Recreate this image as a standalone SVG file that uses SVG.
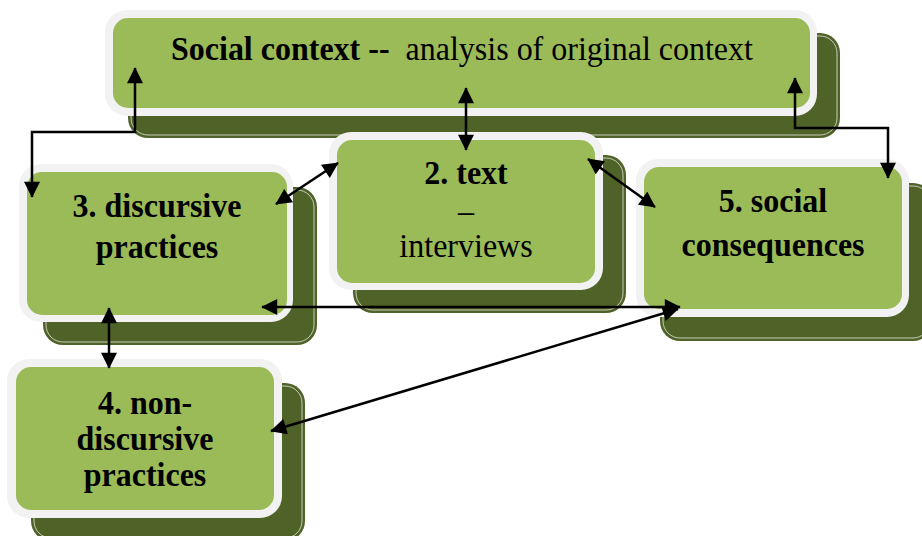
<svg xmlns="http://www.w3.org/2000/svg" width="922" height="536" viewBox="0 0 922 536">
<defs>
<style>
.sh{fill:#4F6228}
.shl{fill:none;stroke:#ffffff;stroke-width:0.8;stroke-opacity:0.85}
.wb{fill:#F2F2F2}
.gr{fill:#9BBB59}
.t{font-family:"Liberation Serif","Times New Roman",serif;font-size:32px;fill:#000;text-anchor:middle}
.b{font-weight:bold}
.c{fill:none;stroke:#000;stroke-width:2.5;marker-start:url(#ah);marker-end:url(#ah)}
</style>
<marker id="ah" viewBox="0 0 10 10" refX="9.5" refY="5" markerWidth="17" markerHeight="16" markerUnits="userSpaceOnUse" orient="auto-start-reverse">
<path d="M0,0 L10,5 L0,10 z" fill="#000"/>
</marker>
</defs>
<rect width="922" height="536" fill="#ffffff"/>

<g id="social-context">
<rect class="sh" x="128" y="33" width="712" height="105" rx="20"/>
<rect class="shl" x="131" y="36" width="706" height="99" rx="17"/>
<rect class="wb" x="105" y="10" width="712" height="106" rx="22"/>
<rect class="gr" x="113" y="18" width="697" height="90" rx="15"/>
<text class="t" transform="translate(171,60) scale(1,1.08)" style="text-anchor:start"><tspan class="b">Social context --</tspan><tspan dx="8">  analysis of original context</tspan></text>
</g>

<g id="discursive-practices">
<rect class="sh" x="43" y="187" width="274" height="158" rx="20"/>
<rect class="shl" x="46" y="190" width="268" height="152" rx="17"/>
<rect class="wb" x="19" y="164" width="274" height="158" rx="22"/>
<rect class="gr" x="27" y="172" width="260" height="143" rx="15"/>
<text class="t b" transform="translate(157,217) scale(1,1.08)">3. discursive</text>
<text class="t b" transform="translate(157,258) scale(1,1.08)">practices</text>
</g>

<g id="text-interviews">
<rect class="sh" x="353" y="155" width="273" height="158" rx="20"/>
<rect class="shl" x="356" y="158" width="267" height="152" rx="17"/>
<rect class="wb" x="329" y="132" width="274" height="158" rx="22"/>
<rect class="gr" x="337" y="140" width="258" height="143" rx="15"/>
<text class="t b" transform="translate(466,184) scale(1,1.08)">2. text</text>
<text class="t" transform="translate(466,222) scale(1,1.08)">–</text>
<text class="t" transform="translate(466,257) scale(1,1.08)">interviews</text>
</g>

<g id="social-consequences">
<rect class="sh" x="660" y="183" width="273" height="158" rx="20"/>
<rect class="shl" x="663" y="186" width="267" height="152" rx="17"/>
<rect class="wb" x="636" y="159" width="273" height="158" rx="22"/>
<rect class="gr" x="644" y="167" width="258" height="142" rx="15"/>
<text class="t b" transform="translate(773,212) scale(1,1.08)">5. social</text>
<text class="t b" transform="translate(773,256) scale(1,1.08)">consequences</text>
</g>

<g id="non-discursive-practices">
<rect class="sh" x="31" y="383" width="274" height="158" rx="20"/>
<rect class="shl" x="34" y="386" width="268" height="152" rx="17"/>
<rect class="wb" x="7" y="359" width="275" height="159" rx="22"/>
<rect class="gr" x="16" y="367" width="258" height="143" rx="15"/>
<text class="t b" transform="translate(145,414) scale(1,1.08)">4. non-</text>
<text class="t b" transform="translate(145,450) scale(1,1.08)">discursive</text>
<text class="t b" transform="translate(145,486) scale(1,1.08)">practices</text>
</g>

<g id="connectors">
<polyline class="c" points="32,197 32,132 135,132 135,68"/>
<polyline class="c" points="795,78 795,128 888,128 888,178"/>
<line class="c" x1="466" y1="88" x2="466" y2="150"/>
<line class="c" x1="276" y1="204" x2="338" y2="163"/>
<line class="c" x1="588" y1="159" x2="655" y2="207"/>
<line class="c" x1="262" y1="307" x2="680" y2="307"/>
<line class="c" x1="109" y1="308" x2="109" y2="368"/>
<line class="c" x1="271" y1="431" x2="678" y2="309"/>
</g>
</svg>
